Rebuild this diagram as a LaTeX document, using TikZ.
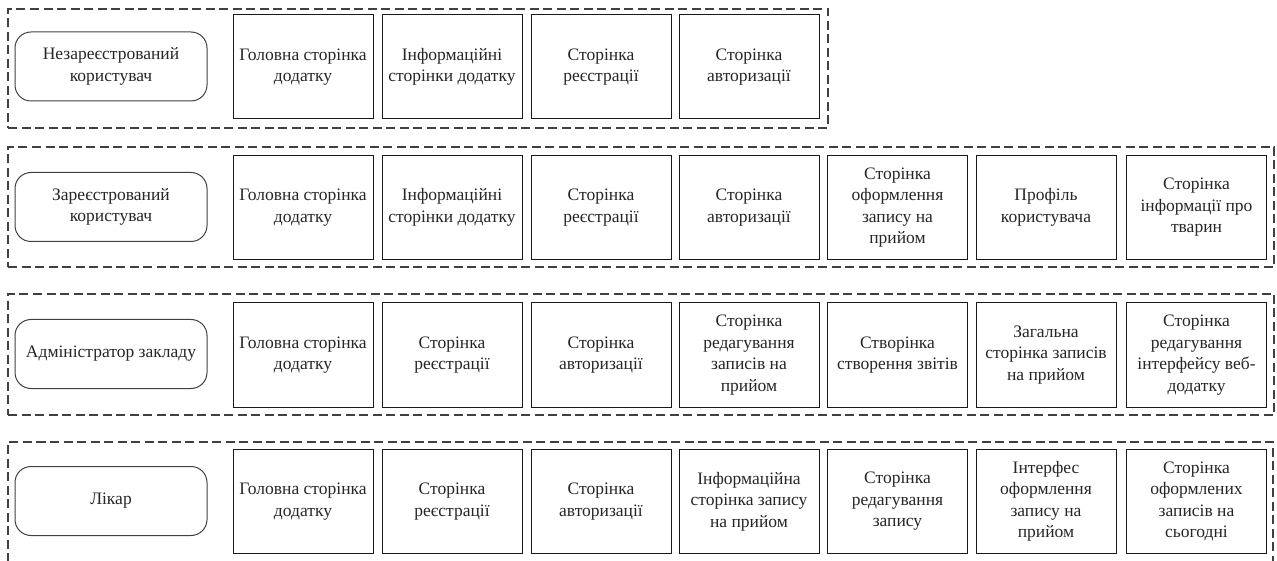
\documentclass[tikz,border=0pt]{standalone}
\usepackage{fontspec}
\setmainfont{Liberation Serif}
\begin{document}
\begin{tikzpicture}[x=1pt,y=-1pt,
  every node/.style={font=\fontsize{17.5}{21.5}\selectfont, align=center, inner sep=1pt, text=black!85},
  page/.style={draw=black!90, line width=1pt, minimum width=140pt, minimum height=104pt},
  actor/.style={draw=black!75, line width=1pt, rounded corners=16pt, minimum width=192pt, minimum height=69pt},
  group/.style={draw=black!75, line width=1.1pt, dash pattern=on 9pt off 4.5pt, minimum height=119pt}]
\useasboundingbox (0,0) rectangle (1277,561);
\clip (0,0) rectangle (1277,561);

% Row 1: unregistered user
\node[group, minimum width=820pt] (g1) at (418,68.5) {};
\node[actor] (a1) at (111,66.5) {Незареєстрований\\користувач};
\node[page] (p11) at (303,67) {Головна сторінка\\додатку};
\node[page] (p12) at (452,67) {Інформаційні\\сторінки додатку};
\node[page] (p13) at (601,67) {Сторінка\\реєстрації};
\node[page] (p14) at (749,67) {Сторінка\\авторизації};

% Row 2: registered user
\node[group, minimum width=1266pt, minimum height=120pt] (g2) at (641,207) {};
\node[actor] (a2) at (111,207) {Зареєстрований\\користувач};
\node[page] (p21) at (303,207.5) {Головна сторінка\\додатку};
\node[page] (p22) at (452,207.5) {Інформаційні\\сторінки додатку};
\node[page] (p23) at (601,207.5) {Сторінка\\реєстрації};
\node[page] (p24) at (749,207.5) {Сторінка\\авторизації};
\node[page] (p25) at (897.5,207.5) {Сторінка\\оформлення\\запису на\\прийом};
\node[page] (p26) at (1046,207.5) {Профіль\\користувача};
\node[page] (p27) at (1196.5,207.5) {Сторінка\\інформації про\\тварин};

% Row 3: clinic administrator
\node[group, minimum width=1266pt, minimum height=121pt] (g3) at (641,354.5) {};
\node[actor] (a3) at (111,354) {Адміністратор закладу};
\node[page] (p31) at (303,355) {Головна сторінка\\додатку};
\node[page] (p32) at (452,355) {Сторінка\\реєстрації};
\node[page] (p33) at (601,355) {Сторінка\\авторизації};
\node[page] (p34) at (749,355) {Сторінка\\редагування\\записів на\\прийом};
\node[page] (p35) at (897.5,355) {Створінка\\створення звітів};
\node[page] (p36) at (1046,355) {Загальна\\сторінка записів\\на прийом};
\node[page] (p37) at (1196.5,355) {Сторінка\\редагування\\інтерфейсу веб-\\додатку};

% Row 4: doctor
\node[group, minimum width=1265pt, minimum height=140pt] (g4) at (640.5,512) {};
\node[actor] (a4) at (111,501) {Лікар};
\node[page] (p41) at (303,501.5) {Головна сторінка\\додатку};
\node[page] (p42) at (452,501.5) {Сторінка\\реєстрації};
\node[page] (p43) at (601,501.5) {Сторінка\\авторизації};
\node[page] (p44) at (749,501.5) {Інформаційна\\сторінка запису\\на прийом};
\node[page] (p45) at (897.5,501.5) {Сторінка\\редагування\\запису};
\node[page] (p46) at (1046,501.5) {Інтерфес\\оформлення\\запису на\\прийом};
\node[page] (p47) at (1196.5,501.5) {Сторінка\\оформлених\\записів на\\сьогодні};
\end{tikzpicture}
\end{document}
